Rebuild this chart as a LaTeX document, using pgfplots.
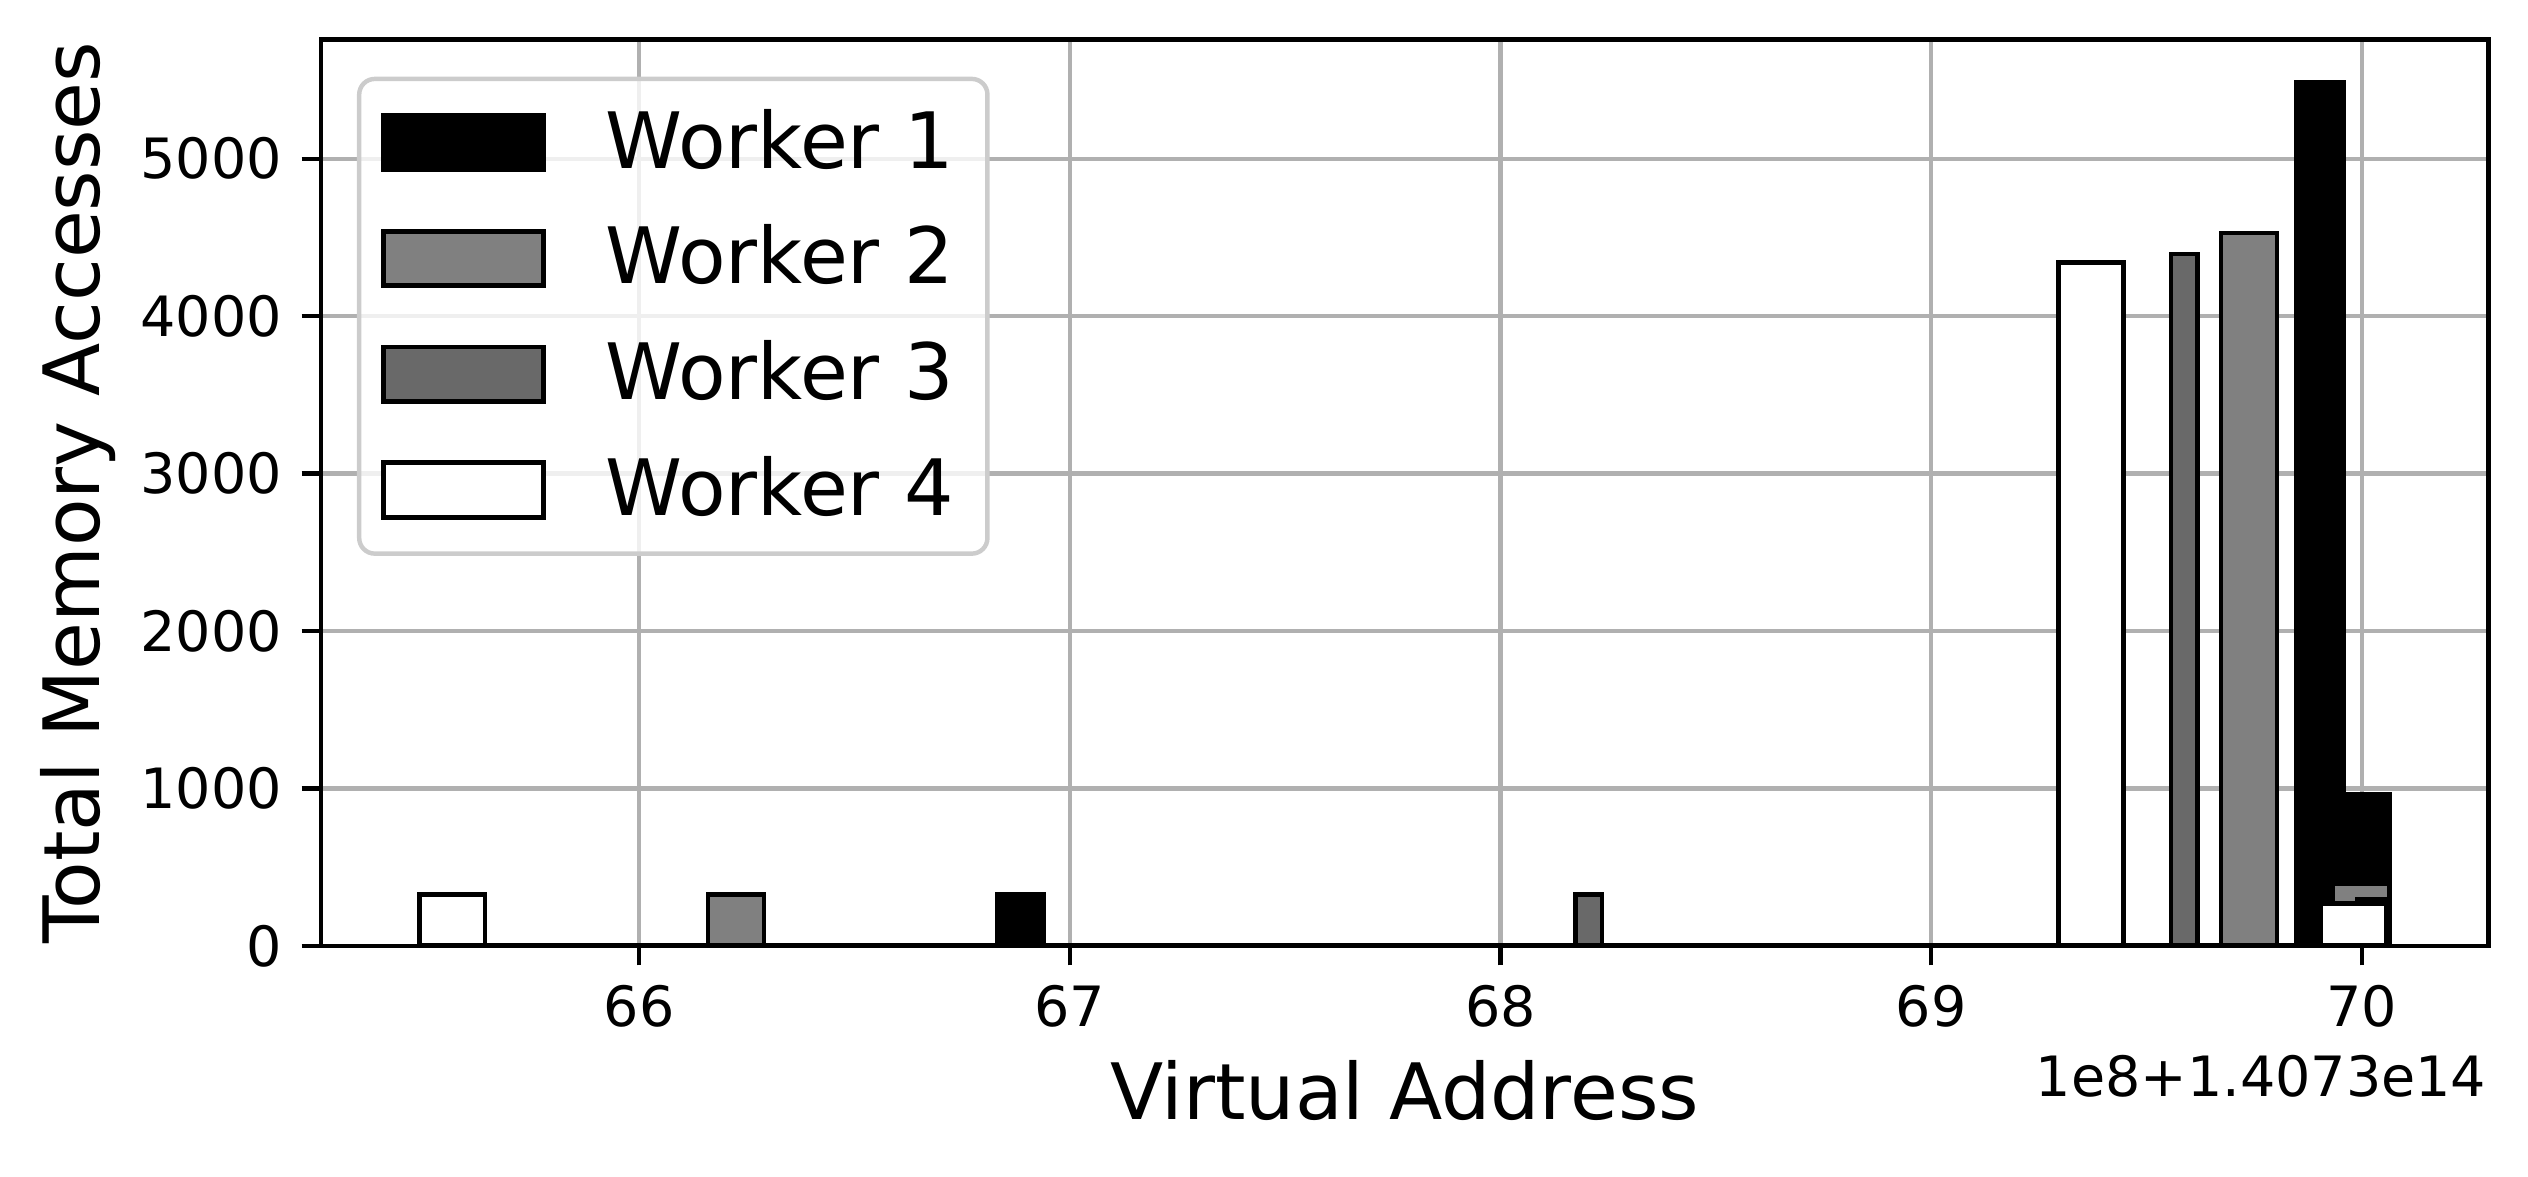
\documentclass[border=0pt]{standalone}
\usepackage{fontspec}
\setmainfont{DejaVu Sans}
\usepackage{pgfplots}
\pgfplotsset{compat=1.18}
\definecolor{dimgray}{RGB}{105,105,105}
\definecolor{midgray}{RGB}{128,128,128}
\definecolor{gridgray}{RGB}{176,176,176}
\definecolor{legframe}{RGB}{204,204,204}
\pgfplotsset{
  wbar/.style={ybar interval, draw=black, line width=0.85pt,
    legend image code/.code={\draw[##1, fill opacity=1, draw opacity=1, line width=0.85pt, sharp corners] (0pt,-4.9pt) rectangle (28.8pt,4.9pt);}},
}
\begin{document}
\begin{tikzpicture}
\useasboundingbox (-57.78pt,-41.58pt) rectangle (397.25pt,170.25pt);
\begin{axis}[
  at={(0pt,0pt)}, anchor=south west,
  scale only axis, width=390.1pt, height=163.1pt,
  xmin=65.2615, xmax=70.2937, ymin=0, ymax=5756,
  xtick={66,67,68,69,70}, ytick={0,1000,2000,3000,4000,5000},
  scaled ticks=false,
  /pgf/number format/assume math mode=true,
  /pgf/number format/1000 sep={},
  tick label style={font=\fontsize{10}{12}\selectfont, black},
  tick align=outside, major tick length=3.5pt,
  xtick pos=bottom, ytick pos=left,
  every tick/.style={black, line width=0.8pt},
  axis line style={line width=0.8pt, black},
  grid=major, major grid style={gridgray, line width=0.8pt},
  xlabel={Virtual Address}, ylabel={Total Memory Accesses},
  every axis x label/.style={at={(axis description cs:0.5,-0.1914)}, anchor=base,
    font=\fontsize{14}{16.8}\selectfont},
  every axis y label/.style={at={(axis description cs:-0.1023,0.5)}, anchor=base, rotate=90,
    font=\fontsize{14}{16.8}\selectfont},
  legend style={at={(axis description cs:0.0166,0.9592)}, anchor=north west,
    font=\fontsize{14}{16.8}\selectfont, draw=legframe, line width=0.8pt,
    rounded corners=2.8pt, fill=white, fill opacity=0.8, draw opacity=1, text opacity=1,
    inner xsep=4pt, inner ysep=3.4pt, row sep=4.7pt,
    nodes={inner sep=2pt, text depth=0.15em},
    /tikz/every odd column/.append style={column sep=8.75pt}},
  legend cell align=left,
]
% Worker 1
\addplot[wbar, fill=black] coordinates {
  (66.831,328) (66.939,0) (69.849,5482) (69.957,961) (70.065,0)
};
\addlegendentry{Worker 1}
% Worker 2
\addplot[wbar, fill=midgray] coordinates {
  (66.160,328) (66.290,0) (69.673,4529) (69.803,0) (69.933,397) (70.063,0)
};
\addlegendentry{Worker 2}
% Worker 3
\addplot[wbar, fill=dimgray] coordinates {
  (68.174,328) (68.236,0) (69.557,4394) (69.619,0) (69.990,298) (70.053,0)
};
\addlegendentry{Worker 3}
% Worker 4
\addplot[wbar, fill=white] coordinates {
  (65.490,328) (65.642,0) (69.295,4342) (69.447,0) (69.904,270) (70.056,0)
};
\addlegendentry{Worker 4}
\end{axis}
\node[anchor=base east, font=\fontsize{10}{12}\selectfont] at (393.3pt,-27.07pt) {1e8+1.4073e14};
\end{tikzpicture}
\end{document}
